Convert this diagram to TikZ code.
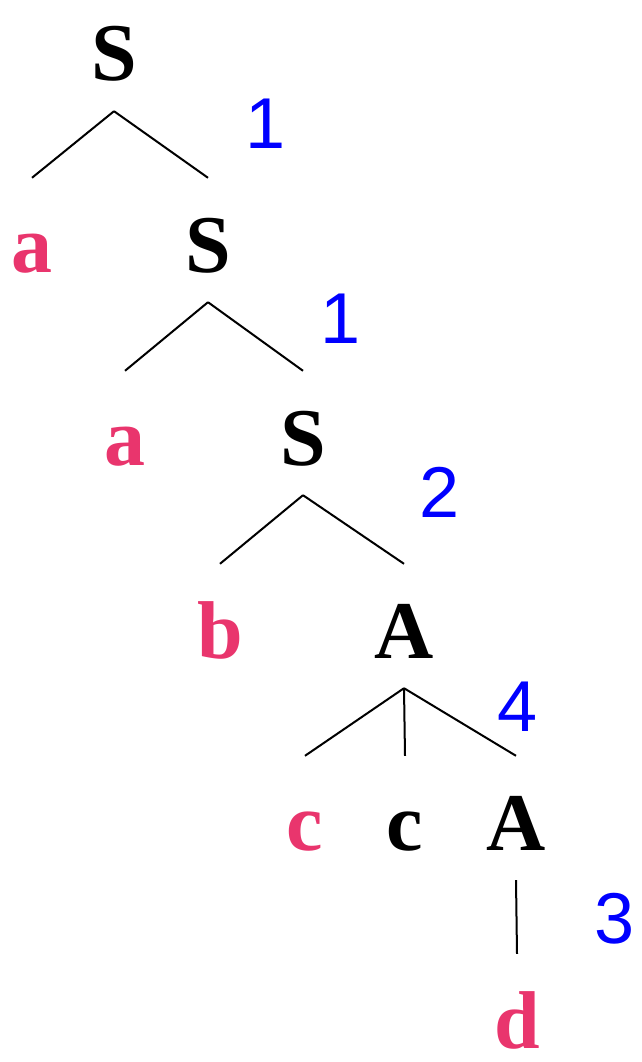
\documentclass[tikz,border=0pt]{standalone}
\usepackage{fontspec}
\setmainfont{Liberation Serif}
\newfontfamily\numfont{Liberation Sans}
\usepackage{tikz}
\definecolor{termpink}{RGB}{233,53,109}
\definecolor{rulblue}{RGB}{0,0,255}
\tikzset{
  sym/.style={anchor=base, inner sep=0pt, text height=94pt, text depth=30pt,
    font=\fontsize{82}{82}\selectfont\bfseries},
  term/.style={sym, text=termpink},
  rule/.style={anchor=base, inner sep=0pt, text=rulblue,
    font=\fontsize{72}{72}\selectfont\numfont},
  edge/.style={line width=2pt}
}

\begin{document}
\begin{tikzpicture}[x=1pt, y=-1pt]

  \useasboundingbox (0,0) rectangle (642,1062);

  % Symbols, row by row (baselines)
  \node[sym]  (s1) at (114,81)   {S};
  \node[term] (a1) at (32,272)   {a};
  \node[sym]  (s2) at (208,272)  {S};
  \node[term] (a2) at (125,465)  {a};
  \node[sym]  (s3) at (303,465)  {S};
  \node[term] (b1) at (220,658)  {b};
  \node[sym]  (A1) at (404,658)  {A};
  \node[term] (c1) at (305,850)  {c};
  \node[sym]  (c2) at (405,850)  {c};
  \node[sym]  (A2) at (516,850)  {A};
  \node[term, text depth=0pt] (d1) at (517,1048) {d};

  % Branches
  \draw[edge] (s1.south) -- (a1.north);
  \draw[edge] (s1.south) -- (s2.north);
  \draw[edge] (s2.south) -- (a2.north);
  \draw[edge] (s2.south) -- (s3.north);
  \draw[edge] (s3.south) -- (b1.north);
  \draw[edge] (s3.south) -- (A1.north);
  \draw[edge] (A1.south) -- (c1.north);
  \draw[edge] (A1.south) -- (c2.north);
  \draw[edge] (A1.south) -- (A2.north);
  \draw[edge] (A2.south) -- (d1.north);

  % Rule numbers
  \node[rule] (r1) at (266,149) {1};
  \node[rule] (r2) at (341,343) {1};
  \node[rule] (r3) at (440,517) {2};
  \node[rule] (r4) at (518,731) {4};
  \node[rule] (r5) at (615,943) {3};

\end{tikzpicture}
\end{document}
